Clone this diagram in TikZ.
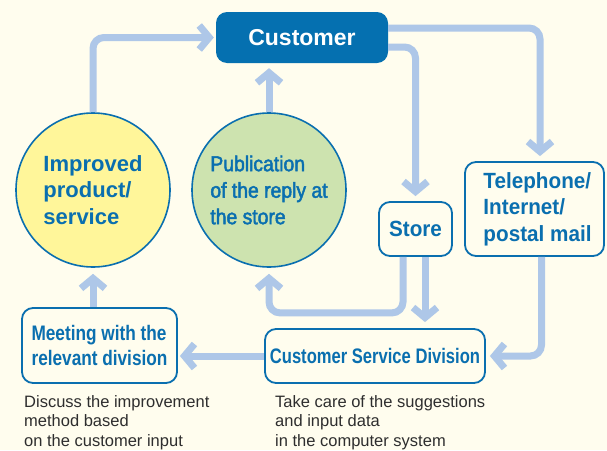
\documentclass[tikz,border=0pt]{standalone}
\usepackage{fontspec}
\setmainfont{Liberation Sans}
\newfontfamily\condfont[FakeStretch=0.79]{Liberation Sans}
\newfontfamily\meetfont[FakeStretch=0.82]{Liberation Sans}
\newfontfamily\telfont[FakeStretch=0.94]{Liberation Sans}
\newfontfamily\pubfont[FakeStretch=0.9,FakeBold=2.2]{Liberation Sans}
\usetikzlibrary{arrows.meta,calc}
\definecolor{bg}{HTML}{FFFDEE}
\definecolor{mainblue}{HTML}{0A6FAF}
\definecolor{custblue}{HTML}{0570B0}
\definecolor{flowc}{HTML}{AEC7E8}
\definecolor{yel}{HTML}{FFF69A}
\definecolor{grn}{HTML}{CDE3AF}
\definecolor{desc}{HTML}{2E2E2E}
\tikzset{
  flow/.style={draw=flowc, line width=7pt, rounded corners=11pt,
    -{Straight Barb[length=10pt,width=24pt]}},
  boxnode/.style={draw=mainblue, line width=1.8pt, rounded corners=11pt, fill=bg,
    text=mainblue, inner sep=0pt, align=left},
  bubble/.style={circle, draw=mainblue, line width=1.6pt, minimum size=154pt,
    inner sep=0pt, text=mainblue, align=left},
  desctext/.style={anchor=north west, inner sep=0pt, align=left, text=desc,
    font=\fontsize{16.5}{19.6}\selectfont}
}
\begin{document}
\begin{tikzpicture}[x=1pt,y=-1pt]
\fill[bg] (0,0) rectangle (607,450);
\useasboundingbox (0,0) rectangle (607,450);

\node[fill=custblue, rounded corners=11pt, minimum width=172pt, minimum height=51pt,
  text=white, font=\fontsize{23}{27}\selectfont\bfseries] (cust) at (302,37.5) {Customer};

\node[bubble, fill=yel, font=\fontsize{22}{26.5}\selectfont\bfseries] (imp) at (93,190)
  {Improved\\product/\\service};
\node[bubble, fill=grn, font=\fontsize{21.5}{26.5}\pubfont] (pub) at (269,190)
  {Publication\\of the reply at\\the store};

\node[boxnode, minimum width=73pt, minimum height=54pt,
  font=\fontsize{22}{26}\telfont\bfseries] (store) at (415.5,229) {Store};
\node[boxnode, minimum width=139pt, minimum height=94pt,
  font=\fontsize{22}{26.5}\telfont\bfseries] (tel) at (534.5,209)
  {\hspace*{6pt}Telephone/\\\hspace*{6pt}Internet/\\\hspace*{6pt}postal mail};
\node[boxnode, minimum width=155pt, minimum height=75pt,
  font=\fontsize{21}{25}\meetfont\bfseries] (meet) at (99.5,345.5)
  {Meeting with the\\relevant division};
\node[boxnode, minimum width=220pt, minimum height=54pt,
  font=\fontsize{21}{25}\condfont\bfseries] (csd) at (375,356)
  {Customer Service Division};

\node[desctext] (d1) at (24,395)
  {Discuss the improvement\\method based\\on the customer input};
\node[desctext] (d2) at (275,395)
  {Take care of the suggestions\\and input data\\in the computer system};

% connectors
\draw[flow, shorten >=2pt] (imp.north) |- (cust.west);
\draw[flow, shorten >=5pt] (pub.north) -- (pub.north |- cust.south);
\draw[flow, shorten >=5pt] ([yshift=9.5pt]cust.east) -| ([xshift=5.5pt]tel.north);
\draw[flow, shorten >=5pt] ([yshift=-9.5pt]cust.east) -| (store.north);
\draw[flow, shorten >=6pt] ([xshift=-12.5pt]store.south) -- ++(0,56) -| (pub.south);
\draw[flow, shorten >=6pt] ([xshift=9.5pt]store.south) -- ([xshift=9.5pt]store.south |- csd.north);
\draw[flow, shorten >=4pt] ([xshift=7pt]tel.south) |- (csd.east);
\draw[flow, shorten >=2pt] (csd.west) -- (csd.west -| meet.east);
\draw[flow, shorten >=6pt] (imp.south |- meet.north) -- (imp.south);
\end{tikzpicture}
\end{document}
